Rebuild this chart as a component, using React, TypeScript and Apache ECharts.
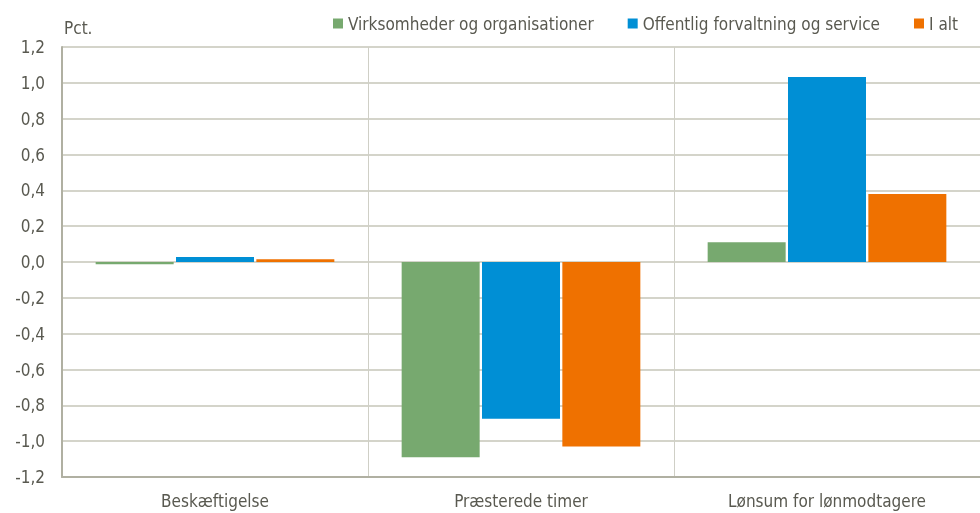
import React, { useEffect, useRef } from "react";
import * as echarts from "echarts";

const categories = ["Beskæftigelse", "Præsterede timer", "Lønsum for lønmodtagere"];
const seriesNames = ["Virksomheder og organisationer", "Offentlig forvaltning og service", "I alt"];
const virksomheder = [-0.013, -1.09, 0.11];
const offentlig = [0.028, -0.875, 1.033];
const iAlt = [0.015, -1.03, 0.38];
const colors = ["#77a96f", "#008fd5", "#ef7100"];

const FONT = "'Liberation Sans Narrow', 'DejaVu Sans Condensed', 'Liberation Sans', sans-serif";
const TEXT = "#595950";

export default function App() {
  const ref = useRef<HTMLDivElement>(null);
  useEffect(() => {
    if (!ref.current) return;
    const chart = echarts.init(ref.current, undefined, { renderer: "svg" });
    const values = [virksomheder, offentlig, iAlt];
    chart.setOption({
      animation: false,
      textStyle: { fontFamily: FONT },
      grid: { left: 62, right: 0, top: 47, bottom: 36 },
      legend: {
        right: 17,
        top: 10,
        itemWidth: 10,
        itemHeight: 10,
        itemGap: 34,
        icon: "rect",
        textStyle: { fontFamily: FONT, fontSize: 17, color: TEXT },
        data: seriesNames,
      },
      xAxis: {
        type: "category",
        data: categories,
        position: "bottom",
        axisLine: { onZero: false, lineStyle: { color: "#b0b0a2", width: 2 } },
        axisTick: { show: false },
        axisLabel: { fontFamily: FONT, fontSize: 17, color: TEXT, margin: 15 },
        splitLine: { show: true, lineStyle: { color: "#cfcfc6", width: 1 } },
      },
      yAxis: {
        type: "value",
        min: -1.2,
        max: 1.2,
        interval: 0.2,
        name: "Pct.",
        nameLocation: "end",
        nameGap: 11,
        nameTextStyle: { fontFamily: FONT, fontSize: 17, color: TEXT, align: "left", padding: [0, 0, 0, 2] },
        axisLine: { show: true, lineStyle: { color: "#b0b0a2", width: 2 } },
        axisTick: { show: false },
        axisLabel: {
          fontFamily: FONT,
          fontSize: 17,
          color: TEXT,
          margin: 17,
          formatter: (v: number) => v.toFixed(1).replace(".", ","),
        },
        splitLine: { show: true, lineStyle: { color: "#c6c6b8", width: 1.5 } },
      },
      series: seriesNames.map((name, i) => ({
        name,
        type: "bar",
        data: values[i],
        barGap: "3%",
        barCategoryGap: "22%",
        itemStyle: { color: colors[i] },
      })),
    });
    return () => chart.dispose();
  }, []);
  return <div ref={ref} style={{ position: "fixed", left: 0, top: 0, width: 980, height: 513 }} />;
}
